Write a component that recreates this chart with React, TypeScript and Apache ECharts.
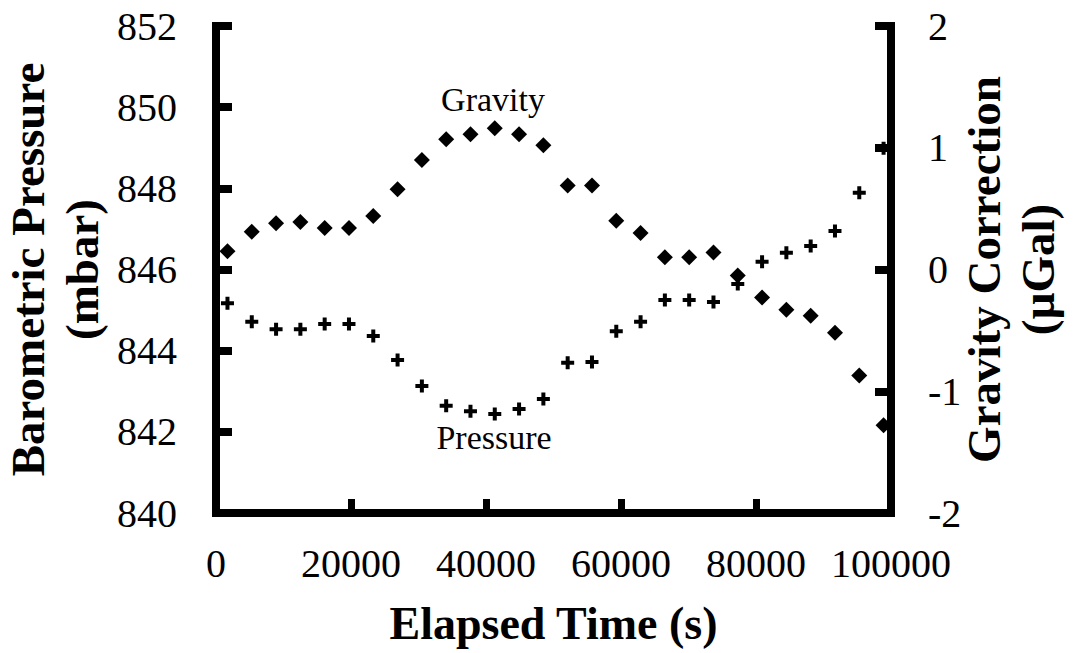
import React, { useEffect, useRef } from "react";
import * as echarts from "echarts";

// Elapsed time of each reading (s)
const elapsedTime = [
  1700, 5300, 8900, 12500, 16100, 19700, 23300, 26900, 30500, 34100,
  37700, 41300, 44900, 48500, 52100, 55700, 59300, 62900, 66500, 70100,
  73700, 77300, 80900, 84500, 88100, 91700, 95300, 98900,
];

// Barometric pressure (mbar), left axis
const pressure = [
  845.17, 844.71, 844.53, 844.53, 844.66, 844.66, 844.36, 843.77, 843.13, 842.64,
  842.51, 842.44, 842.56, 842.81, 843.7, 843.72, 844.48, 844.71, 845.25, 845.25,
  845.2, 845.64, 846.19, 846.41, 846.58, 846.95, 847.89, 848.99,
];

// Gravity correction (µGal), right axis
const gravity = [
  0.15, 0.31, 0.38, 0.39, 0.34, 0.34, 0.44, 0.66, 0.9, 1.07,
  1.11, 1.16, 1.11, 1.02, 0.69, 0.69, 0.4, 0.3, 0.1, 0.1,
  0.14, -0.05, -0.23, -0.33, -0.38, -0.52, -0.87, -1.28,
];

const xTitle = "Elapsed Time (s)";
const leftTitle = "Barometric Pressure\n(mbar)";
const rightTitle = "Gravity Correction\n(µGal)";

const FONT = "'Liberation Serif', 'Times New Roman', serif";
const PLUS = "path://M4.5,0H8.5V4.5H13V8.5H8.5V13H4.5V8.5H0V4.5H4.5Z";

export default function App() {
  const ref = useRef<HTMLDivElement>(null);

  useEffect(() => {
    if (!ref.current) return;
    const chart = echarts.init(ref.current, null, { renderer: "svg" });

    const axisLine = { show: true, onZero: false, lineStyle: { color: "#000", width: 8, cap: "square" as const } };
    const label = { color: "#000", fontFamily: FONT, fontSize: 40 };
    const yName = {
      color: "#000",
      fontFamily: FONT,
      fontSize: 47,
      fontWeight: "bold" as const,
      lineHeight: 54,
    };

    chart.setOption({
      animation: false,
      backgroundColor: "#fff",
      grid: {
        left: 216,
        right: 185,
        top: 26,
        bottom: 140,
        containLabel: false,
        outerBoundsMode: "none",
      },
      xAxis: {
        type: "value",
        min: 0,
        max: 100000,
        interval: 20000,
        name: xTitle,
        nameLocation: "middle",
        nameGap: 87,
        nameMoveOverlap: false,
        nameTextStyle: { color: "#000", fontFamily: FONT, fontSize: 46, fontWeight: "bold" },
        axisLine,
        axisTick: { show: true, inside: true, length: 14, lineStyle: { color: "#000", width: 7 } },
        axisLabel: { ...label, margin: 30, formatter: (v: number) => String(v) },
        splitLine: { show: false },
      },
      yAxis: [
        {
          type: "value",
          position: "left",
          min: 840,
          max: 852,
          interval: 2,
          name: leftTitle,
          nameLocation: "middle",
          nameRotate: 90,
          nameGap: 107,
          nameMoveOverlap: false,
          nameTextStyle: yName,
          axisLine,
          axisTick: { show: true, inside: true, length: 16, lineStyle: { color: "#000", width: 8 } },
          axisLabel: { ...label, margin: 39 },
          splitLine: { show: false },
        },
        {
          type: "value",
          position: "right",
          min: -2,
          max: 2,
          interval: 1,
          name: rightTitle,
          nameLocation: "middle",
          nameRotate: 90,
          nameGap: 66,
          nameMoveOverlap: false,
          nameTextStyle: yName,
          axisLine,
          axisTick: { show: true, inside: true, length: 16, lineStyle: { color: "#000", width: 8 } },
          axisLabel: { ...label, margin: 37 },
          splitLine: { show: false },
        },
      ],
      graphic: [
        {
          type: "text",
          x: 493,
          y: 99,
          style: {
            text: "Gravity",
            fill: "#000",
            font: `34px ${FONT}`,
            textAlign: "center",
            textVerticalAlign: "middle",
          },
        },
        {
          type: "text",
          x: 494,
          y: 437,
          style: {
            text: "Pressure",
            fill: "#000",
            font: `34px ${FONT}`,
            textAlign: "center",
            textVerticalAlign: "middle",
          },
        },
      ],
      series: [
        {
          name: "Pressure",
          type: "scatter",
          yAxisIndex: 0,
          symbol: PLUS,
          symbolSize: 13,
          itemStyle: { color: "#000", opacity: 1 },
          data: elapsedTime.map((t, i) => [t, pressure[i]]),
          z: 3,
        },
        {
          name: "Gravity",
          type: "scatter",
          yAxisIndex: 1,
          symbol: "diamond",
          symbolSize: 16,
          itemStyle: { color: "#000", opacity: 1 },
          data: elapsedTime.map((t, i) => [t, gravity[i]]),
          z: 3,
        },
      ],
    });

    return () => chart.dispose();
  }, []);

  return (
    <div
      ref={ref}
      style={{ position: "absolute", left: 0, top: 0, width: 1076, height: 653, background: "#fff" }}
    />
  );
}
